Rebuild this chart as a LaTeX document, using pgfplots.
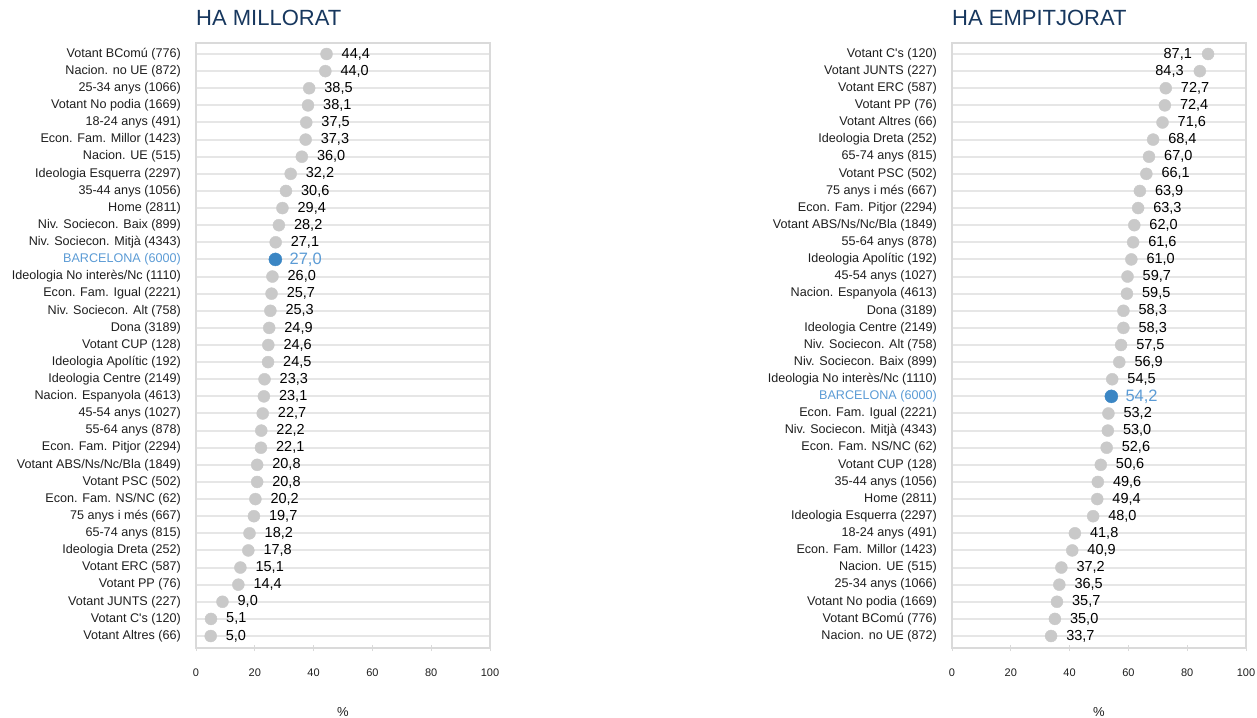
\documentclass[border=0pt]{standalone}
\usepackage{fontspec}
\setmainfont{Liberation Sans}
\usepackage{pgfplots}
\pgfplotsset{compat=1.18}
\usepackage{pgfplotstable}
\definecolor{dotgray}{HTML}{C9C9C9}
\definecolor{gridgray}{HTML}{E6E6E6}
\definecolor{framegray}{HTML}{DADADA}
\definecolor{bcnblue}{HTML}{3B86C4}
\definecolor{bcntext}{HTML}{5B9BD5}
\definecolor{titleblue}{HTML}{17375E}
\definecolor{labtext}{HTML}{1E1E1E}

\pgfplotstableread{
y x lab
1 44.4 44,4
2 44.0 44,0
3 38.5 38,5
4 38.1 38,1
5 37.5 37,5
6 37.3 37,3
7 36.0 36,0
8 32.2 32,2
9 30.6 30,6
10 29.4 29,4
11 28.2 28,2
12 27.1 27,1
14 26.0 26,0
15 25.7 25,7
16 25.3 25,3
17 24.9 24,9
18 24.6 24,6
19 24.5 24,5
20 23.3 23,3
21 23.1 23,1
22 22.7 22,7
23 22.2 22,2
24 22.1 22,1
25 20.8 20,8
26 20.8 20,8
27 20.2 20,2
28 19.7 19,7
29 18.2 18,2
30 17.8 17,8
31 15.1 15,1
32 14.4 14,4
33 9.0 9,0
34 5.1 5,1
35 5.0 5,0
}\leftdata

\pgfplotstableread{
y x lab
13 27.0 27,0
}\leftbcn

\pgfplotstableread{
y x lab
1 87.1 87,1
2 84.3 84,3
}\righttop

\pgfplotstableread{
y x lab
3 72.7 72,7
4 72.4 72,4
5 71.6 71,6
6 68.4 68,4
7 67.0 67,0
8 66.1 66,1
9 63.9 63,9
10 63.3 63,3
11 62.0 62,0
12 61.6 61,6
13 61.0 61,0
14 59.7 59,7
15 59.5 59,5
16 58.3 58,3
17 58.3 58,3
18 57.5 57,5
19 56.9 56,9
20 54.5 54,5
22 53.2 53,2
23 53.0 53,0
24 52.6 52,6
25 50.6 50,6
26 49.6 49,6
27 49.4 49,4
28 48.0 48,0
29 41.8 41,8
30 40.9 40,9
31 37.2 37,2
32 36.5 36,5
33 35.7 35,7
34 35.0 35,0
35 33.7 33,7
}\rightdata

\pgfplotstableread{
y x lab
21 54.2 54,2
}\rightbcn

\pgfplotsset{
  dotpanel/.style={
    scale only axis, width=294pt, height=605pt,
    xmin=0, xmax=100, ymin=0.357, ymax=35.70, y dir=reverse,
    xtick={0,20,...,100}, ytick={1,...,35},
    ymajorgrids, grid style={gridgray, line width=2pt},
    axis line style={framegray, line width=1.3pt},
    xtick pos=bottom, ytick style={draw=none},
    xtick style={framegray, line width=1pt},
    major tick length=6pt, tick align=center,
    /pgf/number format/assume math mode=true,
    xticklabel style={anchor=center, yshift=-22pt, font=\fontsize{11}{11}\selectfont, text=labtext},
    yticklabel style={anchor=east, inner sep=0pt, xshift=-12pt, font=\fontsize{12.6}{12.6}\selectfont, text=labtext},
    title style={at={(axis description cs:0,1)}, anchor=west, yshift=19pt, inner sep=0pt,
      font=\fontsize{22}{22}\selectfont, text=titleblue},
    xlabel={\%},
    xlabel style={at={(axis description cs:0.5,0)}, anchor=center, yshift=-64pt,
      font=\fontsize{13}{13}\selectfont, text=labtext},
    clip=false,
  },
  dots/.style={dotgray, only marks, mark=*, mark size=6pt, mark options={draw=dotgray, fill=dotgray},
    nodes near coords, point meta=explicit symbolic,
    every node near coord/.append style={anchor=west, inner sep=0pt, xshift=15pt,
      font=\fontsize{14.5}{14.5}\selectfont, text=black}},
  dotsleft/.style={dotgray, only marks, mark=*, mark size=6pt, mark options={draw=dotgray, fill=dotgray},
    nodes near coords, point meta=explicit symbolic,
    every node near coord/.append style={anchor=east, inner sep=0pt, xshift=-16pt,
      font=\fontsize{14.5}{14.5}\selectfont, text=black}},
  bcndot/.style={bcnblue, only marks, mark=*, mark size=6.5pt, mark options={draw=bcnblue, fill=bcnblue},
    nodes near coords, point meta=explicit symbolic,
    every node near coord/.append style={anchor=west, inner sep=0pt, xshift=14pt,
      font=\fontsize{16.5}{16.5}\selectfont, text=bcntext}},
}

\begin{document}
\begin{tikzpicture}
\useasboundingbox (0,0) rectangle (1257pt,717pt);
\begin{axis}[dotpanel, at={(196pt,69pt)}, anchor=south west,
  title={HA MILLORAT},
  yticklabels={Votant BComú (776),Nacion. no UE (872),25-34 anys (1066),Votant No podia (1669),18-24 anys (491),Econ. Fam. Millor (1423),Nacion. UE (515),Ideologia Esquerra (2297),35-44 anys (1056),Home (2811),Niv. Sociecon. Baix (899),Niv. Sociecon. Mitjà (4343),{\textcolor{bcntext}{BARCELONA (6000)}},Ideologia No interès/Nc (1110),Econ. Fam. Igual (2221),Niv. Sociecon. Alt (758),Dona (3189),Votant CUP (128),Ideologia Apolític (192),Ideologia Centre (2149),Nacion. Espanyola (4613),45-54 anys (1027),55-64 anys (878),Econ. Fam. Pitjor (2294),Votant ABS/Ns/Nc/Bla (1849),Votant PSC (502),Econ. Fam. NS/NC (62),75 anys i més (667),65-74 anys (815),Ideologia Dreta (252),Votant ERC (587),Votant PP (76),Votant JUNTS (227),Votant C\textquotesingle s (120),Votant Altres (66)}]
\addplot[dots] table[x=x, y=y, meta=lab] {\leftdata};
\addplot[bcndot] table[x=x, y=y, meta=lab] {\leftbcn};
\end{axis}
\begin{axis}[dotpanel, at={(952pt,69pt)}, anchor=south west,
  title={HA EMPITJORAT},
  yticklabels={Votant C\textquotesingle s (120),Votant JUNTS (227),Votant ERC (587),Votant PP (76),Votant Altres (66),Ideologia Dreta (252),65-74 anys (815),Votant PSC (502),75 anys i més (667),Econ. Fam. Pitjor (2294),Votant ABS/Ns/Nc/Bla (1849),55-64 anys (878),Ideologia Apolític (192),45-54 anys (1027),Nacion. Espanyola (4613),Dona (3189),Ideologia Centre (2149),Niv. Sociecon. Alt (758),Niv. Sociecon. Baix (899),Ideologia No interès/Nc (1110),{\textcolor{bcntext}{BARCELONA (6000)}},Econ. Fam. Igual (2221),Niv. Sociecon. Mitjà (4343),Econ. Fam. NS/NC (62),Votant CUP (128),35-44 anys (1056),Home (2811),Ideologia Esquerra (2297),18-24 anys (491),Econ. Fam. Millor (1423),Nacion. UE (515),25-34 anys (1066),Votant No podia (1669),Votant BComú (776),Nacion. no UE (872)}]
\addplot[dotsleft] table[x=x, y=y, meta=lab] {\righttop};
\addplot[dots] table[x=x, y=y, meta=lab] {\rightdata};
\addplot[bcndot] table[x=x, y=y, meta=lab] {\rightbcn};
\end{axis}
\end{tikzpicture}
\end{document}
